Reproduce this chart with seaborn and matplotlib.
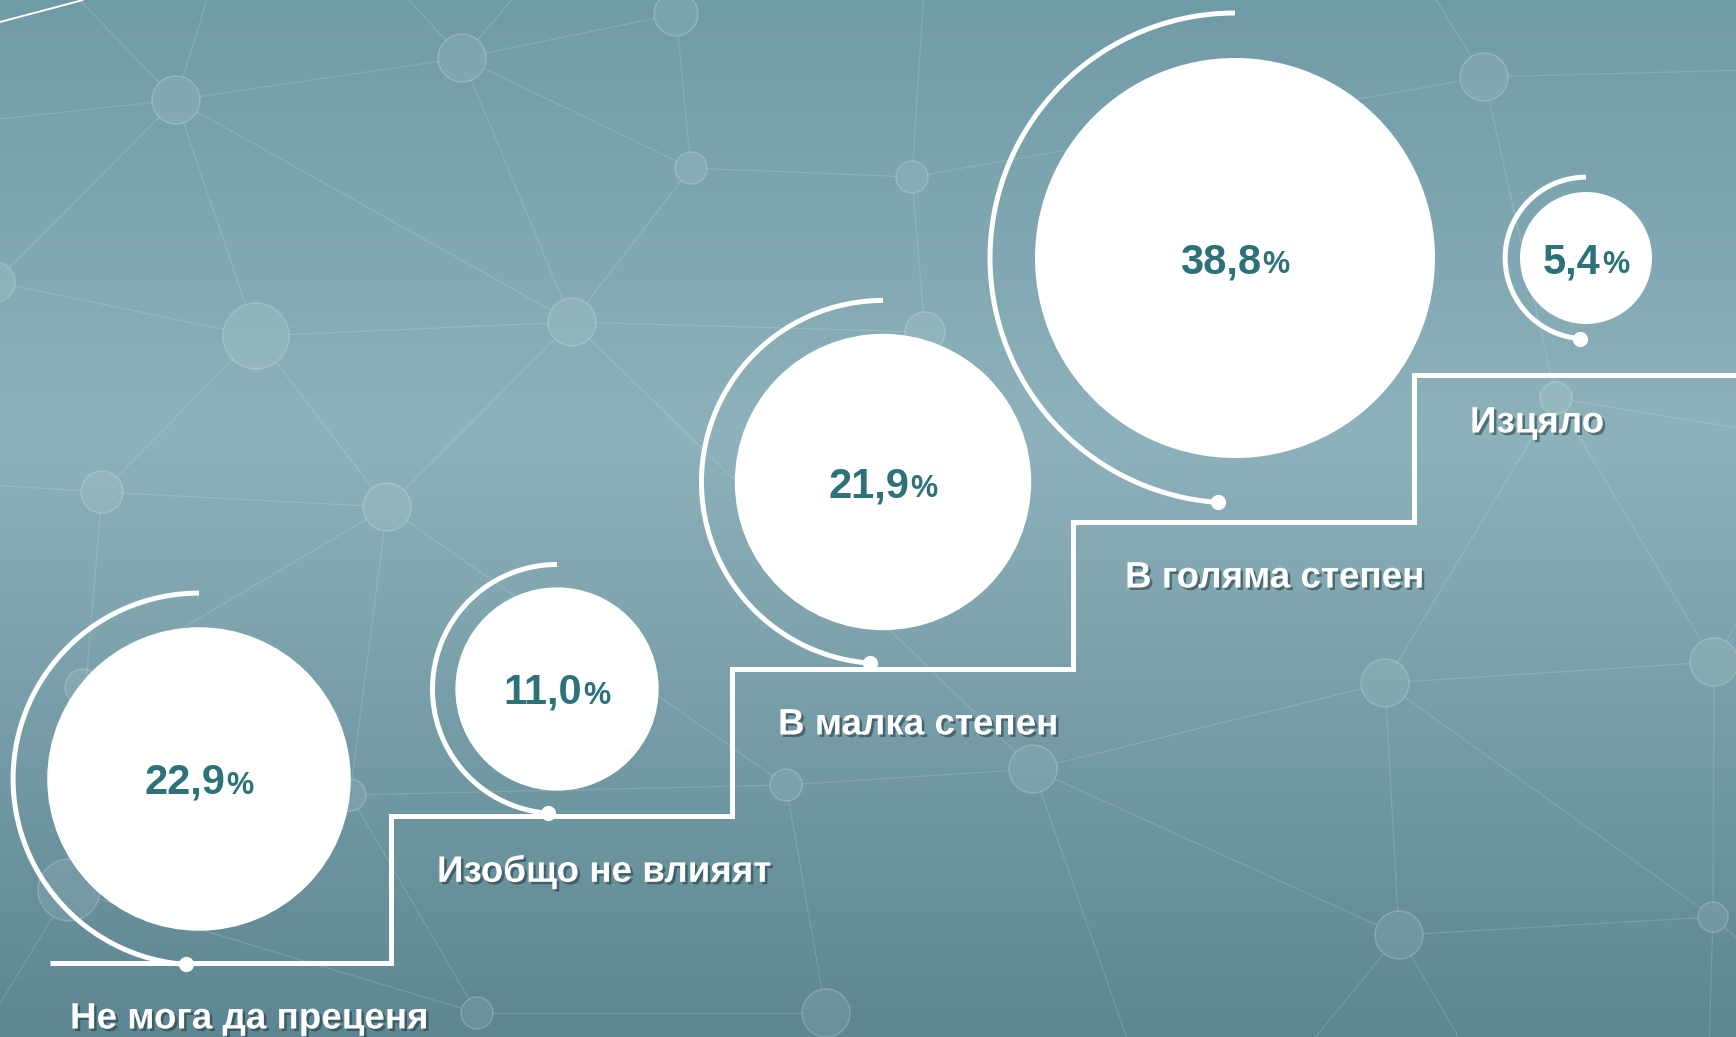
import numpy as np
import pandas as pd
import matplotlib
matplotlib.use("Agg")
import matplotlib.pyplot as plt
import matplotlib.patheffects as pe
from matplotlib.colors import LinearSegmentedColormap
from matplotlib.offsetbox import TextArea, HPacker, AnnotationBbox
import seaborn as sns

# Данни
categories = ["Не мога да преценя", "Изобщо не влияят", "В малка степен",
              "В голяма степен", "Изцяло"]
values = [22.9, 11.0, 21.9, 38.8, 5.4]
value_labels = ["22,9", "11,0", "21,9", "38,8", "5,4"]

# Разположение (пиксели)
W, H = 1736, 1037
circle_x = [199, 557, 883, 1235, 1586]
circle_y = [779, 689, 482, 258, 258]
label_x = [70, 437, 778, 1125, 1470]
step_x0, step_w = 50, 341
step_y0, step_h = 963, 147
r_min, r_max = 66, 200
arc_factor = 1.225

# Декоративна мрежа във фона
bg_nodes = [(176, 100, 24), (462, 58, 24), (676, 14, 22), (691, 168, 16), (912, 177, 16),
            (1484, 77, 24), (256, 336, 33), (572, 322, 24), (102, 492, 21), (387, 507, 24),
            (925, 332, 20), (1556, 398, 16), (1385, 683, 24), (1033, 769, 24), (786, 785, 16),
            (1714, 662, 24), (1399, 935, 24), (1713, 917, 15), (477, 1013, 16), (826, 1013, 24),
            (69, 890, 31), (83, 687, 18), (350, 795, 16), (-5, 282, 20),
            (70, -10, 0), (210, -10, 0), (-10, 120, 0), (400, -10, 0), (520, -10, 0),
            (924, -10, 0), (1430, -10, 0), (1750, 70, 0), (1750, 430, 0), (1305, 1050, 0),
            (1466, 1050, 0), (1709, 1050, 0), (1131, 1050, 0), (1750, 950, 0), (-10, 1020, 0),
            (-10, 485, 0), (1750, 600, 0)]
bg_edges = [(0, 1), (0, 6), (0, 7), (0, 23), (0, 24), (0, 25), (0, 26), (1, 2), (1, 3), (1, 7),
            (1, 27), (1, 28), (2, 3), (3, 7), (3, 4), (4, 29), (4, 10), (7, 10), (6, 7), (6, 23),
            (6, 8), (6, 9), (7, 9), (7, 13), (8, 9), (8, 39), (8, 20), (9, 21), (9, 22), (9, 14),
            (5, 30), (5, 31), (5, 11), (11, 15), (11, 32), (15, 12), (15, 17), (15, 40), (12, 13),
            (12, 16), (12, 17), (13, 14), (13, 16), (13, 36), (16, 17), (16, 33), (16, 34),
            (17, 35), (17, 37), (14, 19), (14, 22), (20, 18), (20, 38), (20, 21), (18, 19),
            (22, 18), (21, 22), (12, 11), (4, 5)]

sns.set_theme(style="white")
plt.rcParams['font.family'] = ['Liberation Sans', 'DejaVu Sans']

fig = plt.figure(figsize=(W / 100, H / 100), dpi=100)
ax = fig.add_axes([0, 0, 1, 1])
ax.set_xlim(0, W)
ax.set_ylim(H, 0)
ax.axis('off')

# Фон - вертикален градиент
bg_cmap = LinearSegmentedColormap.from_list(
    "bg", [(0, "#6f9ba7"), (0.42, "#8eb2bb"), (1, "#5c8692")])
grad = np.linspace(0, 1, 256).reshape(-1, 1)
ax.imshow(grad, cmap=bg_cmap, aspect='auto', extent=[0, W, H, 0], zorder=0)

# Мрежа
for a, b in bg_edges:
    x1, y1, r1 = bg_nodes[a]
    x2, y2, r2 = bg_nodes[b]
    d = np.hypot(x2 - x1, y2 - y1)
    ux, uy = (x2 - x1) / d, (y2 - y1) / d
    ax.plot([x1 + ux * r1, x2 - ux * r2], [y1 + uy * r1, y2 - uy * r2],
            color='white', alpha=0.14, lw=0.9, zorder=1)
for x, y, r in bg_nodes:
    if r > 0:
        ax.add_patch(plt.Circle((x, y), r, facecolor=(1, 1, 1, 0.09),
                                edgecolor=(1, 1, 1, 0.18), lw=1.2, zorder=1))

# бяла линия горе вляво
ax.plot([0, 83], [22, 0], color='white', lw=1.4, zorder=2)

# Стълбата
n = len(values)
sx = step_x0 + step_w * np.arange(n + 1)
sy = step_y0 - step_h * np.arange(n)
sy = np.append(sy, sy[-1])
ax.step(sx, sy, where='post', color='white', lw=3.6, zorder=3,
        solid_joinstyle='miter', solid_capstyle='butt')

# Кръгове - размер според стойността
s_min = (2 * r_min * 0.72) ** 2
s_max = (2 * r_max * 0.72) ** 2
df = pd.DataFrame({'cat': categories, 'value': values, 'x': circle_x, 'y': circle_y})
sns.scatterplot(data=df, x='x', y='y', size='value', sizes=(s_min, s_max),
                color='white', linewidth=0, legend=False, ax=ax, zorder=4)
ax.set_xlim(0, W)
ax.set_ylim(H, 0)

vmin, vmax = min(values), max(values)
radii = np.sqrt(s_min + (np.array(values) - vmin) / (vmax - vmin) * (s_max - s_min)) / 1.44

theta = np.radians(np.linspace(90, 266, 200))
end_x, end_y = [], []
for cx, cy, r in zip(circle_x, circle_y, radii):
    R = r * arc_factor
    ax.plot(cx + R * np.cos(theta), cy - R * np.sin(theta), color='white',
            lw=3.6, solid_capstyle='butt', zorder=4)
    end_x.append(cx + R * np.cos(theta[-1]))
    end_y.append(cy - R * np.sin(theta[-1]))
ax.scatter(end_x, end_y, s=120, color='white', zorder=5, linewidth=0)

# Стойности в кръговете
for cx, cy, lab in zip(circle_x, circle_y, value_labels):
    num = TextArea(lab, textprops=dict(fontsize=30, fontweight='bold', color='#2e7279'))
    pct = TextArea('%', textprops=dict(fontsize=22, fontweight='bold', color='#2e7279'))
    box = HPacker(children=[num, pct], align='baseline', pad=0, sep=1)
    ab = AnnotationBbox(box, (cx, cy + 4), frameon=False, box_alignment=(0.5, 0.5),
                        zorder=6)
    ax.add_artist(ab)

# Етикети под стъпалата
shadow = [pe.SimplePatchShadow(offset=(1.8, -1.8), shadow_rgbFace='#1e3a40', alpha=0.55),
          pe.Normal()]
for i, (lx, cat) in enumerate(zip(label_x, categories)):
    ly = sy[i] + 56 if i < n - 1 else sy[i] + 48
    ax.text(lx, ly, cat, fontsize=26.5, fontweight='bold', color='white',
            ha='left', va='center', path_effects=shadow, zorder=6)

fig.savefig('out.png', dpi=100)
